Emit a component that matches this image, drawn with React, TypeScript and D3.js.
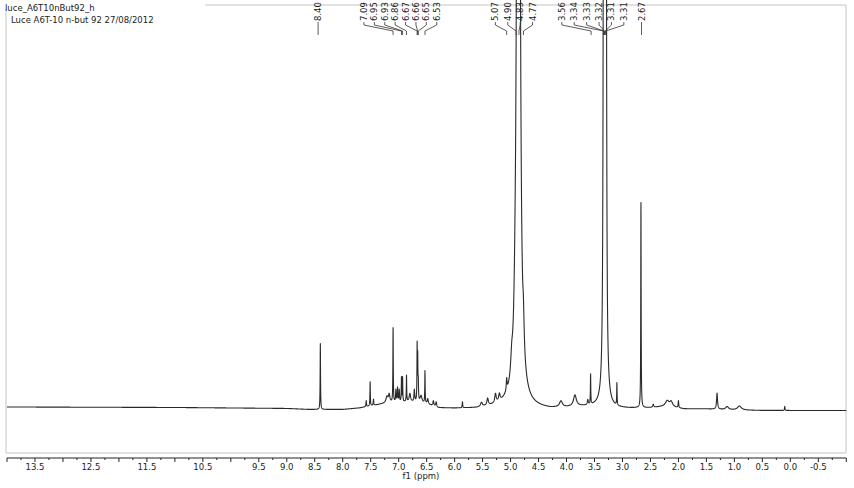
import React from 'react';
import * as d3 from 'd3';

const W = 854;
const H = 488;

const titleLines = ['luce_A6T10nBut92_h', 'Luce A6T-10 n-but 92 27/08/2012'];
const axisTitle = 'f1 (ppm)';
const tickLabelValues = [13.5, 12.5, 11.5, 10.5, 9.5, 9.0, 8.5, 8.0, 7.5, 7.0, 6.5, 6.0, 5.5, 5.0, 4.5, 4.0, 3.5, 3.0, 2.5, 2.0, 1.5, 1.0, 0.5, 0.0, -0.5];

// Peak list: position (ppm), height (intensity units), half width (ppm)
const peakPpm = [
  8.40, 7.58, 7.51, 7.45, 7.21, 7.17, 7.10, 7.05, 7.02, 6.99, 6.95, 6.93, 6.86, 6.80, 6.72,
  6.67, 6.66, 6.65, 6.60, 6.53, 6.48, 6.38, 6.33, 5.86, 5.52, 5.41, 5.27, 5.20, 5.07, 4.98,
  4.92, 4.86, 4.77, 4.10, 3.85, 3.62, 3.57, 3.335, 3.315, 3.295, 3.10, 2.67, 2.45, 2.20, 2.13, 2.00,
  1.31, 1.13, 0.91, 0.10,
];
const peakHeight = [
  66, 6, 24, 6, 6, 8, 74, 12, 14, 12, 24, 24, 26, 8, 12,
  54, 40, 18, 7, 32, 5, 5, 5, 6, 4, 7, 9, 7, 12, 16,
  20, 3000, 28, 6, 11, 5, 30, 1100, 1300, 1100, 22, 205, 3, 6, 5, 7,
  16, 3, 4, 4,
];
const peakWidth = [
  0.004, 0.005, 0.004, 0.005, 0.02, 0.015, 0.004, 0.006, 0.006, 0.006, 0.004, 0.004, 0.004, 0.015, 0.008,
  0.004, 0.004, 0.005, 0.02, 0.004, 0.01, 0.01, 0.01, 0.005, 0.02, 0.015, 0.015, 0.015, 0.008, 0.02,
  0.02, 0.015, 0.015, 0.03, 0.03, 0.01, 0.004, 0.0068, 0.0068, 0.0068, 0.004, 0.004, 0.01, 0.04, 0.03, 0.006,
  0.01, 0.03, 0.04, 0.005,
];

// Baseline
const baselinePpm = [14.0, 11.0, 9.0, 8.6, 8.0, 7.7, 7.4, 7.2, 6.8, 6.5, 6.3, 6.0, 5.6, 5.3, 5.1, 4.6, 4.3, 4.0, 3.8, 3.5, 3.2, 2.9, 2.5, 2.3, 2.1, 1.9, 1.5, 1.0, 0.5, 0.0, -1.0];
const baselineInt = [5, 4.5, 3.5, 2.5, 2.5, 4, 7, 9, 10, 8, 4, 3.5, 3.5, 5, 6, 4, 3, 4, 5, 5, 3.5, 3.5, 4, 5, 4.5, 3, 3, 2, 1.5, 1.5, 1.5];

// Peak annotation groups
const labelTexts = [
  ['8.40'],
  ['7.09', '6.95', '6.93', '6.86', '6.67', '6.66', '6.65', '6.53'],
  ['5.07', '4.90', '4.83', '4.77'],
  ['3.56', '3.34', '3.33', '3.32', '3.31', '3.31'],
  ['2.67'],
];
const labelPeakPpm = [
  [8.40],
  [7.10, 6.95, 6.93, 6.86, 6.67, 6.66, 6.65, 6.53],
  [5.07, 4.90, 4.85, 4.77],
  [3.56, 3.34, 3.33, 3.32, 3.31, 3.30],
  [2.67],
];
// layout of the annotation groups (centre in ppm, spacing in px)
const labelCenterPpm = [8.44, 6.97, 4.94, 3.53, 2.66];
const labelSpacing = [0, 10.4, 12.4, 12.4, 0];

export default function App() {
  const x = d3.scaleLinear().domain([14, -1]).range([7, 846.3]);
  const y = d3.scaleLinear().domain([0, 400]).range([412, 12]);
  const base = d3.scaleLinear().domain(baselinePpm).range(baselineInt);

  const grid = d3.range(0, 15001).map((i) => 14 - i * 0.001);
  const data = grid.map((p) => {
    let v = base(p);
    for (let k = 0; k < peakPpm.length; k++) {
      const d = (p - peakPpm[k]) / peakWidth[k];
      v += peakHeight[k] / (1 + d * d);
    }
    return [p, v] as [number, number];
  });
  const line = d3
    .line<[number, number]>()
    .x((d) => x(d[0]))
    .y((d) => y(d[1]));

  const ticks = d3.range(0, 61).map((i) => 14 - i * 0.25);
  const axisY = 458;
  const font = 'DejaVu Sans, Verdana, sans-serif';

  return (
    <svg width={W} height={H} style={{ position: 'absolute', left: 0, top: 0, background: '#fff' }}>
      <rect x={0} y={0} width={W} height={H} fill="#fff" />
      {/* frame */}
      <g stroke="#d8d8d8" strokeWidth={1.5} fill="none">
        <line x1={205} y1={5} x2={846} y2={5} />
        <line x1={6} y1={9} x2={6} y2={453} />
        <line x1={6} y1={453} x2={846} y2={453} />
        <line x1={846} y1={5} x2={846} y2={453} />
      </g>
      {/* titles */}
      <text x={5} y={11} fontFamily={font} fontSize={8.5} fill="#222">{titleLines[0]}</text>
      <text x={11} y={23} fontFamily={font} fontSize={8.5} fill="#222">{titleLines[1]}</text>

      {/* spectrum */}
      <path d={line(data) || ''} fill="none" stroke="#2a2a2a" strokeWidth={1.1} strokeLinejoin="round" />

      {/* peak labels */}
      {labelTexts.map((grp, gi) => {
        const cx = x(labelCenterPpm[gi]);
        const n = grp.length;
        return (
          <g key={gi}>
            {grp.map((t, i) => {
              const lx = cx + (i - (n - 1) / 2) * labelSpacing[gi];
              const px = x(labelPeakPpm[gi][i]);
              const d = n === 1
                ? `M${lx},22 L${lx},35`
                : `M${lx},22 L${lx},25 L${px},31 L${px},35`;
              return (
                <g key={i}>
                  <text
                    transform={`translate(${lx + 3},21) rotate(-90)`}
                    fontFamily={font}
                    fontSize={8.5}
                    fill="#222"
                  >
                    {t}
                  </text>
                  <path d={d} fill="none" stroke="#333" strokeWidth={0.8} />
                </g>
              );
            })}
          </g>
        );
      })}

      {/* axis */}
      <line x1={x(14)} y1={axisY} x2={x(-1)} y2={axisY} stroke="#222" strokeWidth={1} />
      {ticks.map((t, i) => (
        <line
          key={i}
          x1={x(t)}
          x2={x(t)}
          y1={axisY}
          y2={axisY + (i % 2 === 0 ? 4 : 2)}
          stroke="#222"
          strokeWidth={1}
        />
      ))}
      {tickLabelValues.map((t, i) => (
        <text key={i} x={x(t)} y={470} textAnchor="middle" fontFamily={font} fontSize={8.5} fill="#222">
          {t.toFixed(1)}
        </text>
      ))}
      <text x={421} y={479} textAnchor="middle" fontFamily={font} fontSize={8.5} fill="#222">{axisTitle}</text>
    </svg>
  );
}
